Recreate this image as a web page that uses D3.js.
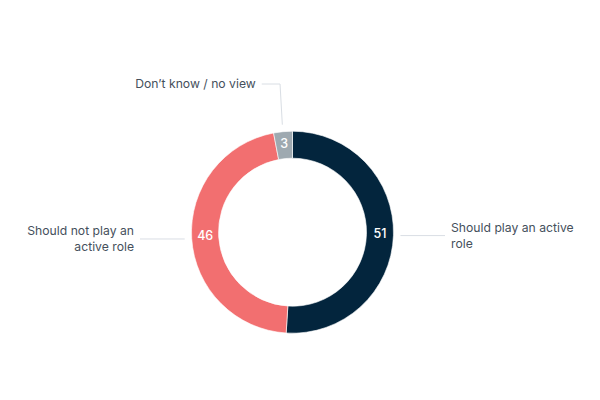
<!DOCTYPE html>
<html><head><meta charset="utf-8">
<script src="https://cdn.jsdelivr.net/npm/d3@7"></script>
<style>
html,body{margin:0;padding:0;background:#fff;}
svg{display:block;font-family:Inter, "Noto Sans", sans-serif;}
</style></head>
<body>
<svg id="chart" width="600" height="400"></svg>
<script>
const categories = ["Should play an active role", "Should not play an active role", "Don\u2019t know / no view"];
const values = [51, 46, 3];
const colors = ["#03253d", "#f26f70", "#9ea9b0"];
const labelLines = [["Should play an active", "role"], ["Should not play an", "active role"], ["Don\u2019t know / no view"]];

const W = 600, H = 400;
const cx = 292.5, cy = 232.2;
const outerR = 101, innerR = 74;
const svg = d3.select("#chart");
const g = svg.append("g").attr("transform", `translate(${cx},${cy})`);

const data = categories.map((c, i) => ({name: c, value: values[i], color: colors[i], lines: labelLines[i]}));
const pie = d3.pie().sort(null).value(d => d.value);
const arcs = pie(data);
const arc = d3.arc().innerRadius(innerR).outerRadius(outerR);
const labelArc = d3.arc().innerRadius((innerR + outerR) / 2).outerRadius((innerR + outerR) / 2);

g.selectAll("path.slice").data(arcs).enter().append("path")
  .attr("class", "slice")
  .attr("d", arc)
  .attr("fill", d => d.data.color)
  .attr("stroke", "#fff")
  .attr("stroke-width", 0.6);

g.selectAll("text.val").data(arcs).enter().append("text")
  .attr("class", "val")
  .attr("transform", d => `translate(${labelArc.centroid(d)})`)
  .attr("text-anchor", "middle")
  .attr("dy", "0.22em")
  .attr("fill", "#fff")
  .attr("font-size", 12.5)
  .attr("font-weight", 500)
  .text(d => d.data.value);

// leader lines and external labels
const connR = outerR + 7;
const sideX = 152.5;
const topY = -148.2;
const lineColor = "#d9dee4";
const textColor = "#45505c";
const lh = 16;

arcs.forEach(d => {
  const mid = (d.startAngle + d.endAngle) / 2;
  const sx = connR * Math.sin(mid), sy = -connR * Math.cos(mid);
  let pts, tx, ty, anchor;
  if (Math.abs(Math.sin(mid)) > 0.5) {
    const side = Math.sin(mid) > 0 ? 1 : -1;
    const ex = side * sideX;
    pts = [[sx, sy], [ex, sy]];
    tx = ex + side * 6; ty = sy; anchor = side > 0 ? "start" : "end";
  } else {
    const ex = sx - 2.3;
    pts = [[sx, sy], [ex, topY], [ex - 18.3, topY]];
    tx = ex - 18.3 - 6; ty = topY; anchor = "end";
  }
  g.append("path")
    .attr("d", d3.line()(pts))
    .attr("fill", "none")
    .attr("stroke", lineColor)
    .attr("stroke-width", 1);
  const lines = d.data.lines;
  const t = g.append("text")
    .attr("text-anchor", anchor)
    .attr("fill", textColor)
    .attr("font-size", 12.2);
  const y0 = ty - (lines.length - 1) * lh / 2;
  lines.forEach((ln, i) => {
    t.append("tspan").attr("x", tx).attr("y", y0 + i * lh).attr("dy", "0.35em").text(ln);
  });
});
</script>
</body></html>
